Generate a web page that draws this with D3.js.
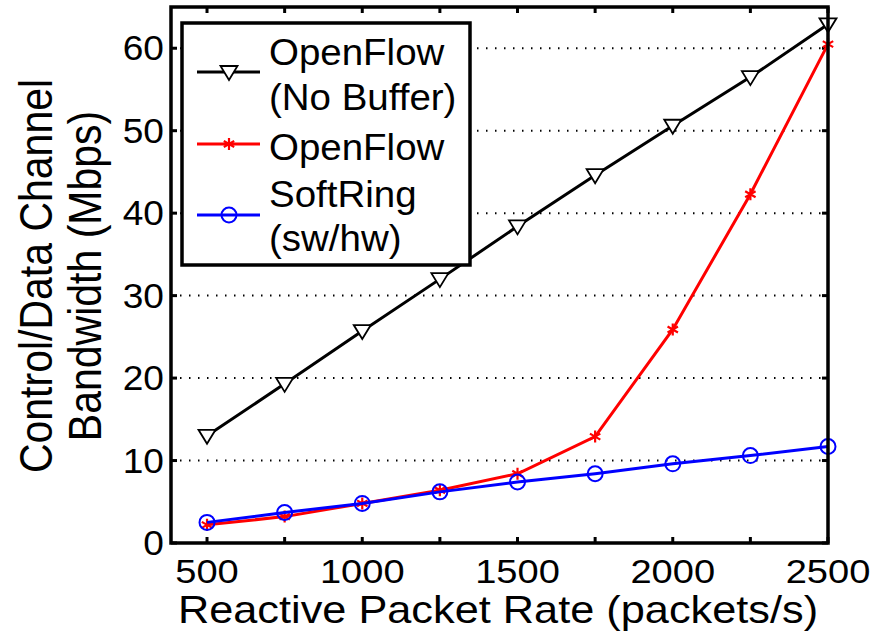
<!DOCTYPE html>
<html>
<head>
<meta charset="utf-8">
<script src="https://cdn.jsdelivr.net/npm/d3@7"></script>
<style>
  body { margin: 0; background: #fff; }
  text { font-family: "Liberation Sans", Arial, sans-serif; fill: #000; }
</style>
</head>
<body>
<svg id="chart" width="889" height="635"></svg>
<script>
// data
var rates = [500, 750, 1000, 1250, 1500, 1750, 2000, 2250, 2500];
var noBuffer = [13.0, 19.3, 25.7, 32.0, 38.4, 44.6, 50.6, 56.5, 62.9];
var openFlow = [2.2, 3.2, 4.8, 6.4, 8.4, 12.9, 25.9, 42.3, 60.5];
var softRing = [2.5, 3.7, 4.8, 6.2, 7.4, 8.4, 9.6, 10.6, 11.7];
var xTicks = [500, 750, 1000, 1250, 1500, 1750, 2000, 2250, 2500];
var xLabels = [500, 1000, 1500, 2000, 2500];
var yTicks = [0, 10, 20, 30, 40, 50, 60];

var series = [
  { name: ["OpenFlow", "(No Buffer)"], values: noBuffer, color: "#000", marker: "tri" },
  { name: ["OpenFlow"], values: openFlow, color: "#ff0000", marker: "star" },
  { name: ["SoftRing", "(sw/hw)"], values: softRing, color: "#0000ff", marker: "circle" }
];

var margin = { top: 7, right: 61, bottom: 92, left: 171 };
var svg = d3.select("#chart");
var width = 889 - margin.left - margin.right;
var height = 635 - margin.top - margin.bottom;

var x = d3.scaleLinear().domain([384, 2500]).range([0, width]);
var y = d3.scaleLinear().domain([0, 65]).range([height, 0]);

// the source figure's text is slightly wider than Liberation Sans
function label(parent, px, py, txt, size, anchor, sx) {
  return parent.append("text")
    .attr("transform", "translate(" + px + "," + py + ") scale(" + sx + ",1)")
    .attr("text-anchor", anchor)
    .style("font-size", size + "px")
    .text(txt);
}

var g = svg.append("g")
  .attr("transform", "translate(" + margin.left + "," + margin.top + ")");

// dotted grid on y ticks
g.selectAll("line.grid")
  .data(yTicks.filter(function(d) { return d > 0; }))
  .enter().append("line")
  .attr("class", "grid")
  .attr("x1", 0).attr("x2", width)
  .attr("y1", function(d) { return y(d); })
  .attr("y2", function(d) { return y(d); })
  .attr("stroke", "#000")
  .attr("stroke-width", 2)
  .attr("stroke-dasharray", "1.5,7.5");

// ticks on all four sides
var tickLen = 6;
xTicks.forEach(function(t) {
  g.append("line").attr("x1", x(t)).attr("x2", x(t)).attr("y1", height).attr("y2", height - tickLen)
    .attr("stroke", "#000").attr("stroke-width", 3);
  g.append("line").attr("x1", x(t)).attr("x2", x(t)).attr("y1", 0).attr("y2", tickLen)
    .attr("stroke", "#000").attr("stroke-width", 3);
});
yTicks.forEach(function(t) {
  g.append("line").attr("x1", 0).attr("x2", tickLen).attr("y1", y(t)).attr("y2", y(t))
    .attr("stroke", "#000").attr("stroke-width", 3);
  g.append("line").attr("x1", width).attr("x2", width - tickLen).attr("y1", y(t)).attr("y2", y(t))
    .attr("stroke", "#000").attr("stroke-width", 3);
});

// tick labels
xLabels.forEach(function(d) {
  label(g, x(d), height + 40, d, 34, "middle", 1.12);
});
yTicks.forEach(function(d) {
  label(g, -7, y(d) + 12, d, 35, "end", 1.06);
});

// axis titles
label(svg, 498, 623, "Reactive Packet Rate (packets/s)", 38, "middle", 1.14);

var yt = svg.append("text")
  .attr("transform", "translate(52,276) scale(1.12,1) rotate(-90)")
  .attr("text-anchor", "middle")
  .style("font-size", "41px");
yt.append("tspan").attr("x", 0).attr("y", 0).text("Control/Data Channel");
yt.append("tspan").attr("x", 0).attr("y", 44).text("Bandwidth (Mbps)");

// lines
var line = d3.line()
  .x(function(d, i) { return x(rates[i]); })
  .y(function(d) { return y(d); });

function drawMarker(sel, type, color) {
  if (type === "tri") {
    sel.append("path")
      .attr("d", "M-8.5,-6L8.5,-6L0,8Z")
      .attr("fill", "#fff").attr("stroke", color).attr("stroke-width", 1.8);
  } else if (type === "circle") {
    sel.append("circle").attr("r", 7.5)
      .attr("fill", "none").attr("stroke", color).attr("stroke-width", 2);
  } else {
    sel.append("path")
      .attr("d", "M0,-6L0,6M-5.2,-3L5.2,3M-5.2,3L5.2,-3")
      .attr("stroke", color).attr("stroke-width", 2.2);
  }
}

series.forEach(function(s) {
  g.append("path")
    .datum(s.values)
    .attr("d", line)
    .attr("fill", "none")
    .attr("stroke", s.color)
    .attr("stroke-width", 3);
  s.values.forEach(function(v, i) {
    var m = g.append("g").attr("transform", "translate(" + x(rates[i]) + "," + y(v) + ")");
    drawMarker(m, s.marker, s.color);
  });
});

// plot frame
g.append("rect")
  .attr("width", width).attr("height", height)
  .attr("fill", "none").attr("stroke", "#000").attr("stroke-width", 3.5);

// legend
var lg = svg.append("g").attr("transform", "translate(182,23)");
lg.append("rect")
  .attr("width", 288).attr("height", 242)
  .attr("fill", "#fff").attr("stroke", "#000").attr("stroke-width", 3.5);

var rowY = [49, 121, 192];
var textY = [[42, 87], [137], [184, 228]];
series.forEach(function(s, i) {
  var ry = rowY[i];
  lg.append("line").attr("x1", 15).attr("x2", 78).attr("y1", ry).attr("y2", ry)
    .attr("stroke", s.color).attr("stroke-width", 3);
  drawMarker(lg.append("g").attr("transform", "translate(47," + ry + ")"), s.marker, s.color);
  s.name.forEach(function(n, j) {
    label(lg, 87, textY[i][j], n, 37, "start", 1.04);
  });
});
</script>
</body>
</html>
